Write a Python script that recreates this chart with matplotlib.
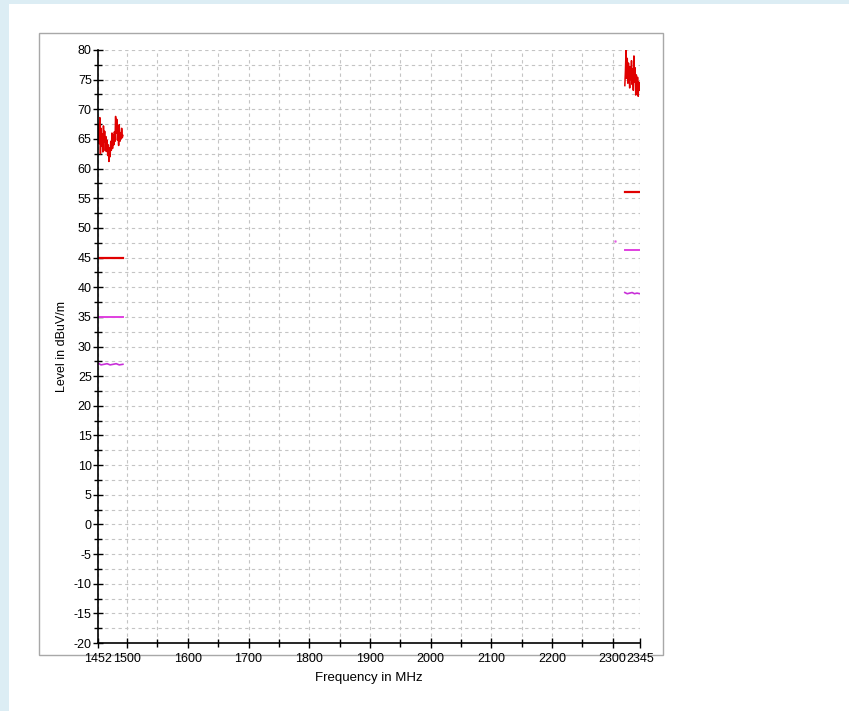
"""
Field strength scan, 1452-2345 MHz (level in dBuV/m).
"""
import matplotlib
matplotlib.use("Agg")
import matplotlib.pyplot as plt
from matplotlib.patches import Rectangle
import numpy as np

plt.rcParams["font.family"] = ["Liberation Sans", "DejaVu Sans"]
plt.rcParams["axes.unicode_minus"] = False

# --- data ---
# low band peak trace (red)
low_freq = [1452, 1453, 1454, 1455, 1456, 1457, 1458, 1459, 1460, 1461,
            1462, 1463, 1464, 1465, 1466, 1467, 1468, 1469, 1470, 1471,
            1472, 1473, 1474, 1475, 1476, 1477, 1478, 1479, 1480, 1481,
            1482, 1483, 1484, 1485, 1486, 1487, 1488, 1489, 1490, 1491,
            1492, 1493]
low_peak = [65.0, 67.5, 64.2, 68.6, 62.5, 66.8, 63.8, 65.9, 62.8, 67.2,
            64.5, 66.3, 63.0, 65.4, 62.9, 64.8, 62.2, 64.0, 61.2, 63.5,
            62.0, 64.6, 63.1, 66.0, 63.4, 65.7, 64.0, 66.2, 64.6, 68.8,
            66.0, 68.3, 64.8, 66.4, 63.9, 67.4, 64.6, 66.0, 65.0, 66.8,
            65.2, 65.6]
low_limit_red = [45.0, 45.0]
low_limit_mag = [35.0, 35.0]
low_span = [1452, 1493]
low_avg_freq = [1452, 1457, 1462, 1467, 1472, 1477, 1482, 1487, 1493]
low_avg = [27.2, 26.9, 27.0, 27.1, 26.9, 27.0, 27.1, 26.9, 27.0]

# high band peak trace (red)
high_freq = [2320, 2321, 2322, 2323, 2324, 2325, 2326, 2327, 2328, 2329,
             2330, 2331, 2332, 2333, 2334, 2335, 2336, 2337, 2338, 2339,
             2340, 2341, 2342, 2343, 2344, 2345]
high_peak = [74.0, 76.5, 80.0, 75.2, 78.6, 74.4, 77.8, 76.0, 73.6, 77.2,
             75.0, 78.2, 74.2, 76.8, 73.2, 79.0, 74.6, 77.0, 72.4, 75.8,
             73.0, 75.4, 72.2, 74.6, 73.2, 73.8]
high_limit_red = [56.0, 56.0]
high_limit_mag = [46.2, 46.2]
high_span = [2320, 2345]
high_avg_freq = [2320, 2324, 2328, 2332, 2336, 2340, 2345]
high_avg = [39.1, 38.9, 39.0, 39.1, 38.9, 39.0, 38.9]
stray_freq = [2303]
stray_level = [47.8]

x_labels = [1452, 1500, 1600, 1700, 1800, 1900, 2000, 2100, 2200, 2300, 2345]

RED = "#e00000"
MAG = "#e040e0"
AVG = "#c830d8"

fig = plt.figure(figsize=(8.49, 7.11), dpi=100)
fig.patch.set_facecolor("#dcedf4")
W, H = 849, 711
fig.patches.append(Rectangle((9 / W, 0), 1, 1 - 4 / H, transform=fig.transFigure,
                             facecolor="white", edgecolor="none", zorder=-2))
fig.patches.append(Rectangle((39 / W, 1 - 655 / H), (663 - 39) / W, (655 - 33) / H,
                             transform=fig.transFigure, facecolor="white",
                             edgecolor="#a8a8a8", lw=1, zorder=-1))

ax = fig.add_axes([98 / W, 1 - 643 / H, 542 / W, 593 / H])
ax.set_facecolor("none")
ax.set_zorder(1)

ax.plot(low_freq, low_peak, color=RED, lw=1.1)
ax.plot(low_span, low_limit_red, color=RED, lw=1.6)
ax.plot(low_span, low_limit_mag, color=MAG, lw=1.4)
ax.plot(low_avg_freq, low_avg, color=AVG, lw=1.2)
ax.plot(high_freq, high_peak, color=RED, lw=1.1)
ax.plot(high_span, high_limit_red, color=RED, lw=1.6)
ax.plot(high_span, high_limit_mag, color=MAG, lw=1.4)
ax.plot(high_avg_freq, high_avg, color=AVG, lw=1.2)
ax.plot(stray_freq, stray_level, ".", color=MAG, ms=2, alpha=0.6)

ax.set_xlim(1452, 2345)
ax.set_ylim(-20, 80)

ax.set_xticks(x_labels)
ax.set_xticklabels([str(v) for v in x_labels])
ax.set_xticks(np.arange(1550, 2300, 100), minor=True)
ax.set_yticks(np.arange(-20, 81, 5))
ax.set_yticks(np.arange(-17.5, 80, 5), minor=True)

ax.grid(True, which="both", color="#c4c4c4", ls=(0, (3, 3)), lw=0.8)
for s in ["top", "right"]:
    ax.spines[s].set_visible(False)
for s in ["left", "bottom"]:
    ax.spines[s].set_linewidth(1.2)
ax.tick_params(which="major", direction="inout", length=7, width=1,
               labelsize=9)
ax.tick_params(axis="x", which="major", pad=4)
ax.tick_params(axis="y", which="major", pad=1)
ax.tick_params(which="minor", direction="inout", length=6, width=1)

ax.set_xlabel("Frequency in MHz", fontsize=9.5, labelpad=5)
ax.set_ylabel("Level in dBuV/m", fontsize=9, labelpad=4)

fig.savefig("out.png", dpi=100)
